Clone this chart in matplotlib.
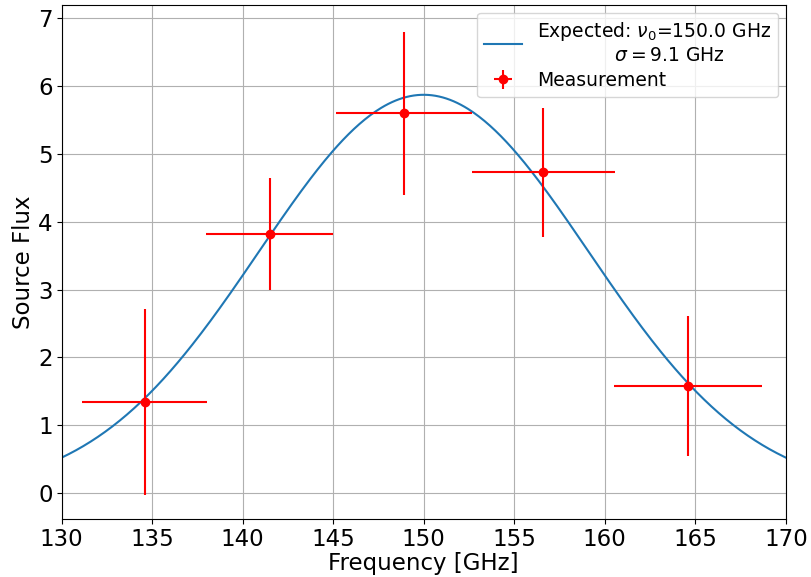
import matplotlib
matplotlib.use("Agg")
import matplotlib.pyplot as plt
import numpy as np

# model parameters (from legend)
nu0 = 150.0
sigma = 9.1
amp = 5.87

# measurements
freq = [134.6, 141.5, 148.9, 156.6, 164.6]
flux = [1.35, 3.82, 5.60, 4.73, 1.58]
freq_err = [3.45, 3.5, 3.75, 3.95, 4.1]
flux_err = [1.37, 0.82, 1.20, 0.95, 1.03]

fig = plt.figure(figsize=(8.11, 5.77), dpi=100)
ax = fig.add_axes([0.076, 0.1005, 0.893, 0.8905])

nu = np.linspace(130, 170, 400)
model = amp * np.exp(-(nu - nu0) ** 2 / (2 * sigma ** 2))
ax.plot(nu, model, color="tab:blue", lw=1.5,
        label="Expected: $\\nu_0$=150.0 GHz\n             $\\sigma=9.1$ GHz")
ax.errorbar(freq, flux, xerr=freq_err, yerr=flux_err, fmt="o", color="red",
            ms=6, lw=1.5, label="Measurement")

ax.set_xlim(130, 170)
ax.set_ylim(-0.38, 7.19)
ax.grid(True)
ax.tick_params(labelsize=16.5, pad=3)
ax.set_xlabel("Frequency [GHz]", fontsize=16.5, labelpad=1)
ax.set_ylabel("Source Flux", fontsize=16.5, labelpad=2)
ax.legend(loc="upper right", fontsize=13.5, borderaxespad=0.4,
          labelspacing=0.3)

fig.savefig("out.png", dpi=100)
